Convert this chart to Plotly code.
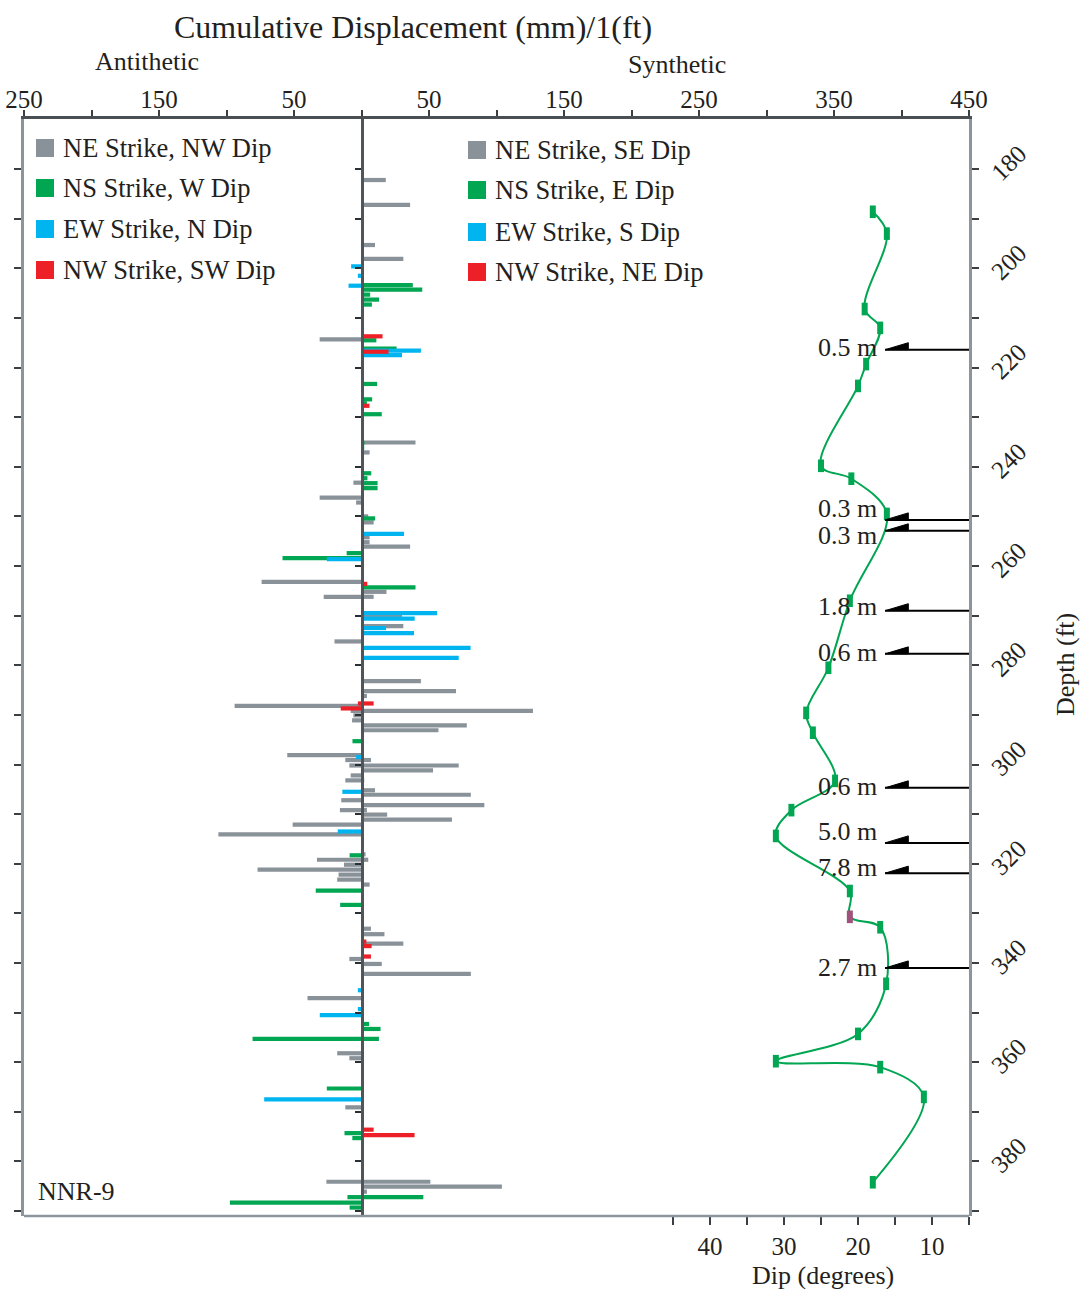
import plotly.graph_objects as go

# Fault displacement per strike/dip family: depth (ft) and signed cumulative
# displacement (mm per ft); negative values are antithetic, positive synthetic.
gray_depth = [182.2, 187.2, 195.3, 198.1, 214.3,
              235.1, 237.1, 243.2, 246.2, 247.2, 250.0, 251.2, 254.2, 255.2, 256.1,
              263.2, 265.2, 266.2, 266.2, 270.1, 272.1, 275.2,
              283.2, 285.2, 286.2, 288.2, 289.2, 289.2, 290.1, 291.1, 292.1, 293.1,
              298.1, 299.1, 299.1, 300.2, 300.2, 301.2, 302.2, 303.2, 303.2, 305.2, 306.1,
              307.2, 308.2, 309.2, 309.2, 310.1, 311.1, 312.1, 314.1,
              318.1, 319.2, 319.2, 320.2, 321.2, 322.2, 323.2, 324.2,
              333.1, 334.2, 336.1, 339.2, 340.2, 342.2, 347.1,
              358.2, 359.2, 369.1,
              384.1, 384.1, 385.1, 386.1]
gray_disp = [18, 36, 10, 31, -31,
             40, 6, -6, -31, -4, 5, 9, 6, 6, 36,
             -74, 18.5, -28, 9, 30, 31, -20,
             44, 70, 4, -94, -8, 127, -6, -7, 78, 57,
             -55, -12, 7, -9, 72, 53, -8, -12, 2, 10, 81,
             -15, 91, -16, 4, 19, 67, -51, -106,
             3, -33, 5, -13, -77, -17, -18, 6,
             7, 17, 31, -9, 15, 81, -40,
             -18, -9, -12,
             -26, 51, 104, 4]

green_depth = [203.4, 204.3, 205.3, 206.3, 207.3, 214.5, 216.2,
               223.3, 226.4, 227.2, 229.4, 235.2, 236.2, 241.3, 242.3, 243.3, 244.3,
               250.4, 257.4, 258.4, 264.3, 295.3, 318.3, 325.4, 328.3,
               352.3, 353.3, 355.3, 355.3, 365.3, 374.3, 375.3,
               387.2, 387.2, 388.3, 389.3]
green_disp = [38, 45, 6.4, 13, 7.7, 11, 26,
              11.6, 7.9, 4, 15, 2.2, 2, 7.2, 4.4, 11.9, 11.9,
              10.1, -11, -58.5, 40, -6.7, -8.8, -33.9, -15.8,
              5.6, 14.1, -80.7, 12.9, -25.7, -12.6, -6.8,
              -10.4, 45.8, -97.5, -8.8]

blue_depth = [199.6, 201.5, 203.5, 216.6, 217.5, 253.5, 258.6, 264.5,
              269.5, 270.6, 272.5, 273.5, 276.5, 278.5, 298.5, 305.5, 313.5,
              345.5, 349.3, 350.5, 367.5]
blue_disp = [-7.7, -2.7, -9.6, 44, 30, 31.5, -25.7, 1.7,
             56, 39.4, 18.2, 38.9, 80.8, 72, -4, -14.2, -17.6,
             -2.7, -2.7, -30.9, -72.1]

red_depth = [213.7, 216.8, 227.7, 263.6, 287.7, 287.7, 288.7,
             335.7, 336.6, 337.7, 338.7, 373.6, 374.7]
red_disp = [15.6, 20, 5.9, 4.3, -2.7, 9, -15.4,
            3.6, 7.5, 1.6, 7, 9, 39.3]

# Dip of bedding with depth
dip_depth = [188.6, 193.0, 208.2, 212.0, 219.3, 223.7, 239.8, 242.4, 249.5,
             267.0, 280.5, 289.6, 293.6, 303.3, 309.2, 314.4, 325.5, 330.7,
             332.8, 344.2, 354.3, 359.8, 361.0, 367.0, 384.2]
dip_deg = [18.0, 16.1, 19.1, 17.0, 18.9, 20.0, 25.0, 20.9, 16.1,
           21.1, 24.0, 27.0, 26.1, 23.1, 29.0, 31.1, 21.1, 21.1,
           17.0, 16.2, 20.0, 31.1, 17.0, 11.1, 18.0]

# Faults with measured offset
fault_depth = [216.4, 250.7, 252.9, 269.0, 277.7, 304.7, 315.8, 321.9, 341.0]
fault_label = ["0.5 m", "0.3 m", "0.3 m", "1.8 m", "0.6 m", "0.6 m", "5.0 m", "7.8 m", "2.7 m"]

# Axis ticks
disp_ticks = list(range(-250, 451, 50))
disp_ticktext = [str(abs(v)) if (abs(v) // 50) % 2 == 1 else "" for v in disp_ticks]
depth_ticks = list(range(180, 391, 10))
depth_ticktext = [str(v) if v % 20 == 0 else "" for v in depth_ticks]
dip_ticks = list(range(5, 46, 5))
dip_ticktext = [str(v) if v % 10 == 0 else "" for v in dip_ticks]

legend_left = ["NE Strike, NW Dip", "NS Strike, W Dip", "EW Strike, N Dip", "NW Strike, SW Dip"]
legend_right = ["NE Strike, SE Dip", "NS Strike, E Dip", "EW Strike, S Dip", "NW Strike, NE Dip"]

# ---- styling ----
FONT = "Liberation Serif"
TXT = "#231f20"
GRAY, GREEN, BLUE, RED = "#8a9299", "#00a651", "#00b5ef", "#ed2027"
FRAME = "#8d959c"
W, H = 1080, 1289
ML, MR, MT, MB = 24, 111, 119, 73
PW, PH = W - ML - MR, H - MT - MB
Y_RANGE = [391.0, 169.9]
BAR_W = 0.85
label_shift_px = [2, 11, -5, 4, 1, 1, 11, 6, 0]


def fx(px):
    return (px - ML) / PW


def fy(py):
    return (H - MB - py) / PH


fig = go.Figure()

for depth, disp, col in [(gray_depth, gray_disp, GRAY), (green_depth, green_disp, GREEN),
                         (blue_depth, blue_disp, BLUE), (red_depth, red_disp, RED)]:
    fig.add_trace(go.Bar(
        x=disp, y=depth, orientation="h", width=BAR_W,
        marker=dict(color=col, line=dict(width=0)),
        xaxis="x", yaxis="y", showlegend=False, hoverinfo="skip",
    ))

# centre (zero) axis carrier
fig.add_trace(go.Scatter(x=[None], y=[None], xaxis="x", yaxis="y3",
                         showlegend=False, hoverinfo="skip"))

marker_cols = [GREEN] * len(dip_deg)
marker_cols[17] = "#a1527c"
fig.add_trace(go.Scatter(
    x=dip_deg, y=dip_depth, xaxis="x2", yaxis="y",
    mode="lines+markers",
    line=dict(color=GREEN, width=2, shape="spline", smoothing=1.0),
    marker=dict(symbol="line-ns", size=9, line=dict(width=6, color=marker_cols)),
    showlegend=False, hoverinfo="skip",
))

shapes = []
annotations = []

# bottom frame edge
shapes.append(dict(type="line", xref="paper", yref="paper", x0=0, x1=1, y0=0, y1=0,
                   line=dict(color=FRAME, width=2.5), layer="above"))

# fault offset markers (half arrowheads pointing at the dip curve)
tip_dip, base_dip, end_dip = 16.35, 13.2, 5.0
head_h = 7 / (PH / (Y_RANGE[0] - Y_RANGE[1]))
for d, lab, sh in zip(fault_depth, fault_label, label_shift_px):
    shapes.append(dict(type="line", xref="x2", yref="y", x0=tip_dip, x1=end_dip, y0=d, y1=d,
                       line=dict(color="black", width=2)))
    shapes.append(dict(type="path", xref="x2", yref="y",
                       path=f"M {tip_dip},{d} L {base_dip},{d - head_h} L {base_dip},{d} Z",
                       fillcolor="black", line=dict(color="black", width=1)))
    annotations.append(dict(xref="x2", yref="y", x=17.1, y=d, yshift=sh, text=lab,
                            showarrow=False, xanchor="right", yanchor="middle",
                            font=dict(family=FONT, size=26, color=TXT)))

# legends
rows_l = [148, 188, 229, 270]
rows_r = [150, 190, 232, 272]
cols = [GRAY, GREEN, BLUE, RED]
for i in range(4):
    for (sx0, sx1, tx, ry, labels) in [(36, 54, 61, rows_l[i], legend_left),
                                       (468, 486, 493, rows_r[i], legend_right)]:
        shapes.append(dict(type="rect", xref="paper", yref="paper",
                           x0=fx(sx0), x1=fx(sx1), y0=fy(ry + 9), y1=fy(ry - 9),
                           fillcolor=cols[i], line=dict(width=0)))
        annotations.append(dict(xref="paper", yref="paper", x=fx(tx), y=fy(ry), text=labels[i],
                                showarrow=False, xanchor="left", yanchor="middle",
                                font=dict(family=FONT, size=26.5, color=TXT)))

# titles and labels
for txt, px, py, size, ang in [
    ("Cumulative Displacement (mm)/1(ft)", 413, 27, 32, 0),
    ("Antithetic", 147, 61, 26, 0),
    ("Synthetic", 677, 65, 26, 0),
    ("NNR-9", 76, 1191, 26, 0),
    ("Dip (degrees)", 823, 1275, 26, 0),
    ("Depth (ft)", 1065, 665, 26, -90),
]:
    annotations.append(dict(xref="paper", yref="paper", x=fx(px), y=fy(py), text=txt,
                            showarrow=False, xanchor="center", yanchor="middle", textangle=ang,
                            font=dict(family=FONT, size=size, color=TXT)))

tickfont = dict(family=FONT, size=25, color=TXT)

fig.update_layout(
    template="none",
    width=W, height=H,
    margin=dict(l=ML, r=MR, t=MT, b=MB, pad=0, autoexpand=False),
    paper_bgcolor="white", plot_bgcolor="white",
    barmode="overlay", showlegend=False,
    font=dict(family=FONT, color=TXT),
    xaxis=dict(domain=[0, 1], range=[-250, 450], side="top", anchor="y", automargin=False,
               tickmode="array", tickvals=disp_ticks, ticktext=disp_ticktext,
               ticks="outside", ticklen=6, tickwidth=1.5, tickcolor="#3a3f44",
               ticklabelstandoff=-8,
               showline=True, linecolor="#4a4f54", linewidth=2.5,
               showgrid=False, zeroline=False, tickfont=tickfont, fixedrange=True),
    xaxis2=dict(domain=[fx(673), 1], range=[45, 5], anchor="y", side="bottom", automargin=False,
                tickmode="array", tickvals=dip_ticks, ticktext=dip_ticktext,
                ticks="outside", ticklen=8, tickwidth=1.5, tickcolor="#3a3f44",
                showline=False, showgrid=False, zeroline=False, tickfont=tickfont),
    yaxis=dict(domain=[0, 1], range=Y_RANGE, side="right", anchor="x", automargin=False,
               tickmode="array", tickvals=depth_ticks, ticktext=depth_ticktext,
               tickangle=-45, ticks="outside", ticklen=7, tickwidth=1.5, tickcolor="#3a3f44",
               ticklabelstandoff=9, ticklabelshift=-8,
               showline=True, linecolor=FRAME, linewidth=2.5, mirror="ticks",
               showgrid=False, zeroline=False, tickfont=tickfont),
    yaxis3=dict(overlaying="y", anchor="free", position=250 / 700, side="left", automargin=False,
                range=Y_RANGE, tickmode="array", tickvals=depth_ticks,
                showticklabels=False, ticks="outside", ticklen=6, tickwidth=1.5,
                tickcolor="#2a2f34", showline=True, linecolor="#50555a", linewidth=3,
                showgrid=False, zeroline=False),
    shapes=shapes,
    annotations=annotations,
)

fig.write_html("out.html")
